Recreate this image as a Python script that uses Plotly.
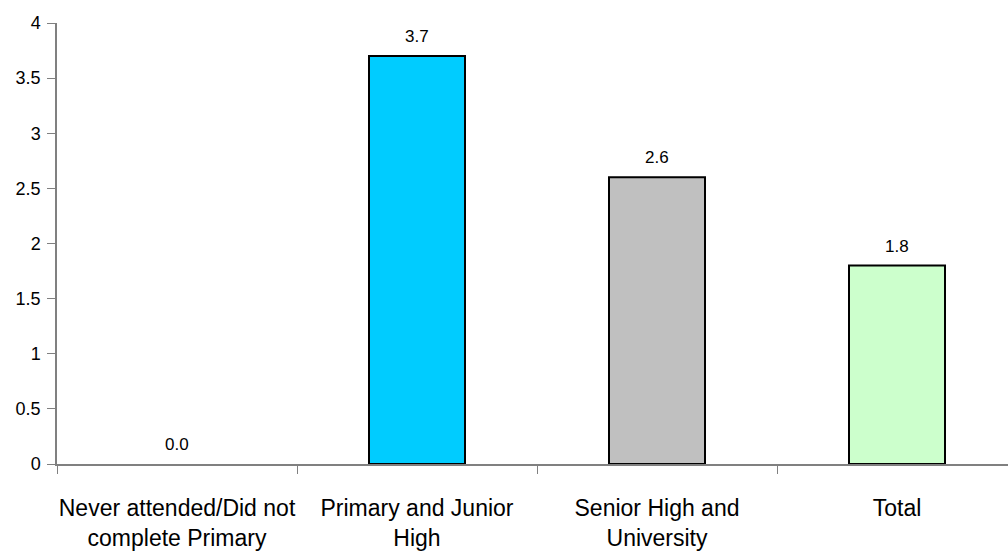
import plotly.graph_objects as go

categories = ["Never attended/Did not<br>complete Primary", "Primary and Junior<br>High",
              "Senior High and<br>University", "Total"]
values = [0.0, 3.7, 2.6, 1.8]
bar_colors = ["#FFFFFF", "#00CCFF", "#C0C0C0", "#CCFFCC"]
y_ticks = [0, 0.5, 1, 1.5, 2, 2.5, 3, 3.5, 4]

fig = go.Figure()
fig.add_trace(go.Bar(
    x=categories, y=values,
    marker=dict(color=bar_colors,
                line=dict(color="#000000", width=[0 if v == 0 else 2 for v in values])),
    width=0.4,
))
for c, v in zip(categories, values):
    fig.add_annotation(x=c, y=v, text=f"{v:.1f}", showarrow=False,
                       yanchor="bottom", yshift=8,
                       font=dict(family="Liberation Sans, Arial", size=17, color="#000"))

fig.update_layout(
    width=1008, height=556,
    margin=dict(l=57, r=0, t=23, b=92, autoexpand=False),
    paper_bgcolor="white", plot_bgcolor="white",
    showlegend=False,
    xaxis=dict(
        range=[-0.5, -0.5 + 951 / 240],
        tickson="boundaries", ticks="outside", ticklen=8, tickcolor="#808080",
        showline=True, linecolor="#808080", linewidth=1.5,
        showgrid=False, zeroline=False, tickangle=0, automargin=False,
        tickfont=dict(family="Liberation Sans Narrow, Arial Narrow, Liberation Sans", size=23, color="#000"),
        ticklabelstandoff=23,
    ),
    yaxis=dict(
        range=[0, 4], tickvals=y_ticks, ticktext=[f"{t:g}" for t in y_ticks],
        ticks="outside", ticklen=8, tickcolor="#808080",
        showline=True, linecolor="#808080", linewidth=1.5,
        showgrid=False, zeroline=False, automargin=False,
        tickfont=dict(family="Liberation Sans, Arial", size=18, color="#000"),
        ticklabelstandoff=3,
    ),
)
fig.write_html("out.html", config={"displayModeBar": False},
               post_script="document.body.style.margin='0';document.body.style.padding='0';")
